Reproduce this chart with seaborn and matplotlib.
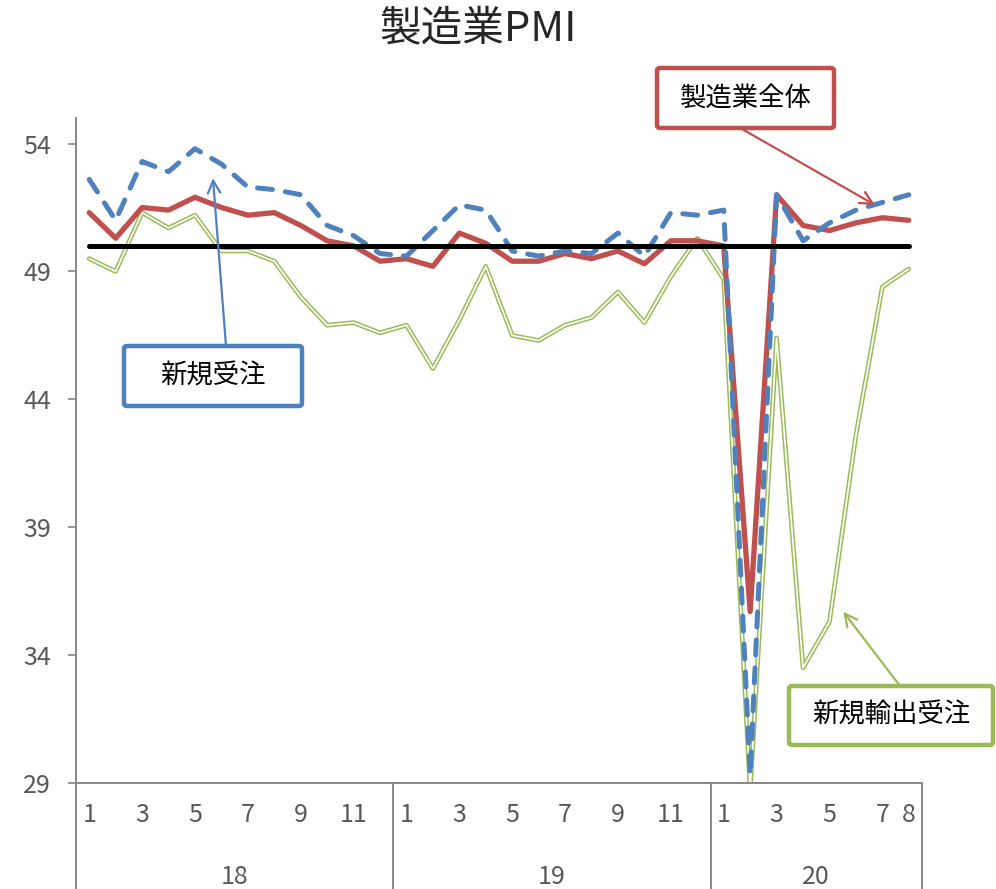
import pandas as pd
import matplotlib
matplotlib.use("Agg")
import matplotlib.pyplot as plt
import seaborn as sns
from matplotlib.patches import FancyBboxPatch

# China manufacturing PMI, Jan 2018 - Aug 2020
months = [1, 2, 3, 4, 5, 6, 7, 8, 9, 10, 11, 12,
          1, 2, 3, 4, 5, 6, 7, 8, 9, 10, 11, 12,
          1, 2, 3, 4, 5, 6, 7, 8]
years = ["18", "19", "20"]
year_len = [12, 12, 8]
shown_months = [1, 3, 5, 7, 9, 11]

pmi_total = [51.3, 50.3, 51.5, 51.4, 51.9, 51.5, 51.2, 51.3, 50.8, 50.2, 50.0, 49.4,
             49.5, 49.2, 50.5, 50.1, 49.4, 49.4, 49.7, 49.5, 49.8, 49.3, 50.2, 50.2,
             50.0, 35.7, 52.0, 50.8, 50.6, 50.9, 51.1, 51.0]
new_orders = [52.6, 51.0, 53.3, 52.9, 53.8, 53.2, 52.3, 52.2, 52.0, 50.8, 50.4, 49.7,
              49.6, 50.6, 51.6, 51.4, 49.8, 49.6, 49.8, 49.7, 50.5, 49.6, 51.3, 51.2,
              51.4, 29.3, 52.0, 50.2, 50.9, 51.4, 51.7, 52.0]
export_orders = [49.5, 49.0, 51.3, 50.7, 51.2, 49.8, 49.8, 49.4, 48.0, 46.9, 47.0, 46.6,
                 46.9, 45.2, 47.1, 49.2, 46.5, 46.3, 46.9, 47.2, 48.2, 47.0, 48.8, 50.3,
                 48.7, 28.7, 46.4, 33.5, 35.3, 42.6, 48.4, 49.1]
baseline = 50

RED, BLUE, GREEN = "#C0504D", "#4F81BD", "#9BBB59"
GREY, TXT = "#868686", "#595959"

df = pd.DataFrame({"i": range(len(months)), "total": pmi_total,
                   "orders": new_orders, "export": export_orders,
                   "base": [baseline] * len(months)})

sns.set_style("white")
plt.rcParams["font.family"] = ["Noto Sans CJK JP", "DejaVu Sans"]

W, H = 996, 889
fig = plt.figure(figsize=(W / 100, H / 100), dpi=100)
ax = fig.add_axes([76 / W, (H - 783) / H, (922 - 76) / W, (783 - 118) / H])

# green double line (outer green, white core)
sns.lineplot(data=df, x="i", y="export", ax=ax, color=GREEN, lw=3.4, zorder=2)
sns.lineplot(data=df, x="i", y="export", ax=ax, color="white", lw=1.2, zorder=2.1)
sns.lineplot(data=df, x="i", y="total", ax=ax, color=RED, lw=3.8, zorder=3)
sns.lineplot(data=df, x="i", y="orders", ax=ax, color=BLUE, lw=3.6, zorder=4,
             dashes=False)
ax.lines[-1].set_dashes([3.0, 2.6])
ax.lines[-1].set_dash_capstyle("round")
sns.lineplot(data=df, x="i", y="base", ax=ax, color="black", lw=3.6, zorder=5)

ax.set_xlim(-0.5, len(months) - 0.5)
ax.set_ylim(29, 55)
ax.set_yticks([29, 34, 39, 44, 49, 54])
ax.set_xlabel("")
ax.set_ylabel("")

labels = []
for k, m in enumerate(months):
    last = k == len(months) - 1
    labels.append(str(m) if (m in shown_months or last) else "")
ax.set_xticks(range(len(months)))
ax.set_xticklabels(labels)
ax.tick_params(axis="x", length=0, pad=14, labelsize=18, labelcolor=TXT)
ax.tick_params(axis="y", length=6, width=1.2, color=GREY, direction="out",
               left=True, pad=12, labelsize=18, labelcolor=TXT)

for s in ["top", "right"]:
    ax.spines[s].set_visible(False)
for s in ["left", "bottom"]:
    ax.spines[s].set_color(GREY)
    ax.spines[s].set_linewidth(1.4)

# year group separators and labels
trans = ax.get_xaxis_transform()
edge = -0.5
edges = [edge]
for y, n in zip(years, year_len):
    ax.text(edge + n / 2, -0.141, y, transform=trans, ha="center", va="center",
            fontsize=18, color=TXT)
    edge += n
    edges.append(edge)
for e in edges:
    ax.plot([e, e], [0, -0.17], transform=trans, color=GREY, lw=1.4, clip_on=False)

# title
fig.text(478 / W, 1 - 29 / H, "製造業PMI", ha="center", va="center", fontsize=30)


def box(x0, y0, x1, y1, text, color):
    fig.add_artist(FancyBboxPatch((x0 / W, 1 - y1 / H), (x1 - x0) / W, (y1 - y0) / H,
                                  boxstyle="round,pad=0,rounding_size=0.003",
                                  transform=fig.transFigure, facecolor="white",
                                  edgecolor=color, lw=3.2, zorder=6))
    fig.text((x0 + x1) / 2 / W, 1 - (y0 + y1) / 2 / H, text, ha="center",
             va="center", fontsize=19, color="black", zorder=7)


def arrow(px, py, xi, yv, color):
    ax.annotate("", xy=(xi, yv), xycoords="data", xytext=(px, H - py),
                textcoords="figure pixels", zorder=6,
                arrowprops=dict(arrowstyle="->,head_length=0.9,head_width=0.45",
                                color=color, lw=1.6, shrinkA=0, shrinkB=0))


arrow(742, 129, 29.72, 51.6, RED)
box(657, 68, 834, 128, "製造業全体", RED)
arrow(226, 346, 4.68, 52.65, BLUE)
box(124, 346, 302, 406, "新規受注", BLUE)
arrow(900, 686, 28.52, 35.7, GREEN)
box(789, 686, 993, 745, "新規輸出受注", GREEN)

fig.savefig("out.png", dpi=100)
